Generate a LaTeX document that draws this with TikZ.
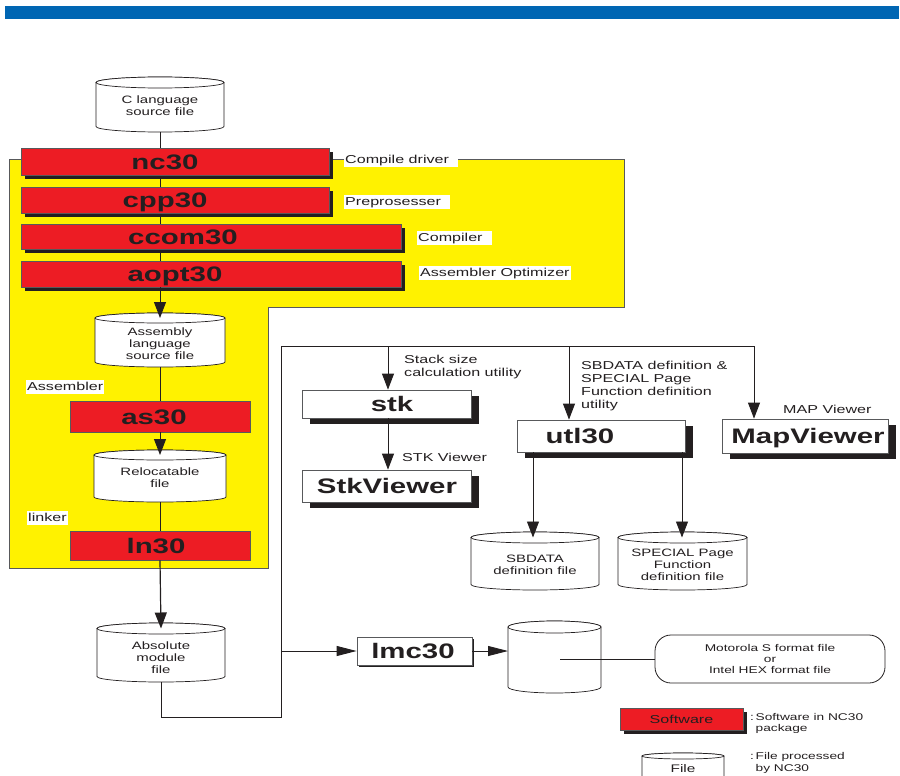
\documentclass[tikz,border=0pt]{standalone}
\usepackage{fontspec}
\newfontfamily\wf{Liberation Sans}[FakeStretch=1.4]
\usetikzlibrary{arrows.meta,shadows}
\definecolor{nred}{HTML}{ED1C24}
\definecolor{nyel}{HTML}{FFF200}
\definecolor{nblue}{HTML}{0066B3}
\definecolor{dark}{HTML}{231F20}
\definecolor{bord}{HTML}{58595B}
\newcommand\cyl[8]{%
  \pgfmathsetmacro\cx{(#2+#3)/2}\pgfmathsetmacro\rx{(#3-#2)/2}%
  \filldraw[cylst] (#2,#4+#6) -- (#2,#5-#6) arc[start angle=180,end angle=360,x radius=\rx pt,y radius=#6pt] -- (#3,#4+#6) arc[start angle=0,end angle=180,x radius=\rx pt,y radius=#6pt] -- cycle;
  \draw[cylst] (\cx,#4+#6) ellipse[x radius=\rx pt,y radius=#6pt];
  \coordinate (#1-t) at (\cx,#4+#6);
  \coordinate (#1-b) at (\cx,#5);
  \coordinate (#1-l) at (#2,#7);
  \node[cyltext] (#1) at (\cx,#7) {#8};
}
\begin{document}
\begin{tikzpicture}[x=1pt,y=-1pt,
  lbl/.style={font=\wf\fontsize{11.5}{12.5}\selectfont, text=dark, inner xsep=1pt, inner ysep=1.5pt, anchor=west, align=left, text height=8.5pt, text depth=2.5pt},
  wlbl/.style={lbl, fill=white},
  mlbl/.style={font=\wf\fontsize{11.5}{12.8}\selectfont, text=dark, inner sep=0pt, anchor=west, align=left},
  cyltext/.style={font=\wf\fontsize{10.7}{12.2}\selectfont, text=dark, align=center, inner sep=0pt},
  bigtxt/.style={font=\wf\bfseries\fontsize{21}{24}\selectfont, text=dark, inner sep=0pt, text height=15pt, text depth=0pt},
  redbox/.style={draw=bord, fill=nred, line width=0.8pt, inner sep=0pt},
  redsh/.style={redbox, drop shadow={shadow xshift=4pt, shadow yshift=-4pt, fill=dark, opacity=1}},
  whitebox/.style={draw=bord, fill=white, line width=0.8pt, inner sep=0pt, drop shadow={shadow xshift=8pt, shadow yshift=-6pt, fill=dark, opacity=1}},
  cylst/.style={draw=dark, fill=white, line width=0.7pt},
  conn/.style={draw=dark, line width=0.9pt},
  varr/.style={conn, -{Triangle[width=12pt,length=16pt]}},
  harr/.style={conn, -{Triangle[width=10pt,length=20pt]}}
]
\useasboundingbox (0,0) rectangle (900,776);
% top bar
\fill[nblue] (5,6) rectangle (899,19);
% yellow region
\filldraw[fill=nyel, draw=bord, line width=0.9pt] (9,159) -- (624,159) -- (624,307) -- (268,307) -- (268,568) -- (9,568) -- cycle;

% cylinders
\cyl{csrc}{96}{224}{77}{132}{5.5}{106}{C language\\source file}
\cyl{asm}{95}{225}{313}{367}{5}{343.5}{Assembly\\language\\source file}
\cyl{rel}{94}{226}{450}{502}{5}{477.5}{Relocatable\\file}
\cyl{abs}{97}{225}{623}{682}{5.5}{657.5}{Absolute\\module\\file}
\cyl{sbd}{471}{599}{532}{590}{5.5}{564.5}{SBDATA\\definition file}
\cyl{spc}{618}{747}{532}{590}{5.5}{565}{SPECIAL Page\\Function\\definition file}
\cyl{blank}{508}{601}{621}{693}{6}{651}{}

% main chain connectors (behind boxes)
\draw[conn] (csrc-b) -- (160,148);
\draw[conn] (160,175) -- (160,187);
\draw[conn] (160,213) -- (160,224);
\draw[conn] (160,249) -- (160,261);

% red boxes
\node[redsh, minimum width=308pt, minimum height=27pt] (nc30) at (175,161.5) {};
\node[redsh, minimum width=308pt, minimum height=26pt] (cpp30) at (175,200) {};
\node[redsh, minimum width=380pt, minimum height=25pt] (ccom30) at (211,236.5) {};
\node[redsh, minimum width=380pt, minimum height=26pt] (aopt30) at (211,274) {};
\node[redbox, minimum width=180pt, minimum height=31pt] (as30) at (160,416.5) {};
\node[redbox, minimum width=180pt, minimum height=29pt] (ln30) at (160,545.5) {};
\node[bigtxt] (nc30t) at (165,161.5) {nc30};
\node[bigtxt] (cpp30t) at (165,200) {cpp30};
\node[bigtxt] (ccom30t) at (183,236.5) {ccom30};
\node[bigtxt] (aopt30t) at (175,274) {aopt30};
\node[bigtxt] (as30t) at (154,416.5) {as30};
\node[bigtxt] (ln30t) at (156,545.5) {ln30};

% labels in yellow region
\node[wlbl] (lcd) at (344,160) {Compile driver\hspace{8pt}};
\node[wlbl] (lpp) at (344,202) {Preprosesser\hspace{8pt}};
\node[wlbl] (lco) at (417,238) {Compiler\hspace{8pt}};
\node[wlbl] (lao) at (419,273) {Assembler Optimizer};
\node[wlbl] (las) at (26,387) {Assembler};
\node[wlbl] (lln) at (27,518) {linker};

% chain arrows
\draw[varr] (aopt30.south -| csrc-b) -- (asm-t);
\draw[conn] (asm-b) -- (as30.north);
\draw[varr] (as30.south) -- (rel-t);
\draw[conn] (rel-b) -- (ln30.north);
\draw[varr, line width=1.2pt] (ln30.south) -- (abs-t);

% white boxes
\node[whitebox, minimum width=169pt, minimum height=28pt] (stk) at (386.5,404) {};
\node[whitebox, minimum width=169pt, minimum height=32pt] (stkv) at (386.5,486) {};
\node[whitebox, minimum width=168pt, minimum height=32pt] (utl) at (601,436) {};
\node[whitebox, minimum width=166pt, minimum height=34pt] (map) at (805,436) {};
\node[draw=bord, fill=white, line width=0.8pt, inner sep=0pt, minimum width=115pt, minimum height=28pt, drop shadow={shadow xshift=2pt, shadow yshift=-2pt, fill=dark, opacity=1}] (lmc) at (414.5,651) {};
\node[bigtxt] (stkt) at (392,404) {stk};
\node[bigtxt] (stkvt) at (387,486) {StkViewer};
\node[bigtxt] (utlt) at (580,436) {utl30};
\node[bigtxt] (mapt) at (808,436) {MapViewer};
\node[bigtxt] (lmct) at (413,651) {lmc30};

% bus
\coordinate (busBL) at (281,717);
\coordinate (busTL) at (281,346);
\coordinate (busTR) at (754,346);
\coordinate (bstk) at (388,346);
\coordinate (butl) at (569,346);
\coordinate (blmc) at (281,651);
\draw[conn] (abs-b) |- (busBL) -- (busTL) -- (busTR);
\draw[varr] (busTR) -- (busTR |- map.north);
\draw[varr] (bstk) -- (bstk |- stk.north);
\draw[varr] (butl) -- (butl |- utl.north);
\draw[varr] (bstk |- stk.south) -- (bstk |- stkv.north);
\coordinate (u1) at (533,452);
\coordinate (u2) at (682,452);
\draw[varr] (u1) -- (u1 |- sbd-t);
\draw[varr] (u2) -- (u2 |- spc-t);
\draw[harr] (blmc) -- (lmc.west);
\draw[harr] (lmc.east) -- (blank-l);

% labels right side
\node[mlbl] (lstk) at (404,367) {Stack size\\calculation utility};
\node[mlbl] (lstkv) at (402,457) {STK Viewer};
\node[mlbl, font=\wf\fontsize{11.5}{13}\selectfont] (lutl) at (581,386.5) {SBDATA definition \&\\SPECIAL Page\\Function definition\\utility};
\node[mlbl] (lmap) at (783,409) {MAP Viewer};

% hex output
\node[draw=dark, fill=white, line width=0.8pt, rounded corners=16pt, minimum width=230pt, minimum height=48pt, align=center, inner sep=0pt, font=\wf\fontsize{9.8}{11.2}\selectfont, text=dark] (hex) at (770,659) {Motorola S format file\\or\\Intel HEX format file};
\coordinate (blankin) at (560,659);
\draw[conn] (blankin) -- (hex.west);

% legend
\node[redbox, minimum width=123pt, minimum height=22pt, drop shadow={shadow xshift=4pt, shadow yshift=-4pt, fill=dark, opacity=1}, font=\wf\fontsize{11.5}{12}\selectfont, text=dark] (legsw) at (681.5,719) {Software};
\node[mlbl, font=\wf\fontsize{9.8}{11.5}\selectfont] (legswt) at (750,723.5) {\begin{tabular}{@{}l@{\,}l@{}}:&Software in NC30\\&package\end{tabular}};
\filldraw[cylst] (642,756) -- (642,778) -- (724,778) -- (724,756) arc[start angle=0,end angle=180,x radius=41pt,y radius=3pt] -- cycle;
\draw[cylst] (683,756) ellipse[x radius=41pt,y radius=3pt];
\node[cyltext, font=\wf\fontsize{11}{12}\selectfont] (legfile) at (683,769) {File};
\node[mlbl, font=\wf\fontsize{9.8}{11.5}\selectfont] (legfilet) at (750,763) {\begin{tabular}{@{}l@{\,}l@{}}:&File processed\\&by NC30\end{tabular}};
\end{tikzpicture}
\end{document}
